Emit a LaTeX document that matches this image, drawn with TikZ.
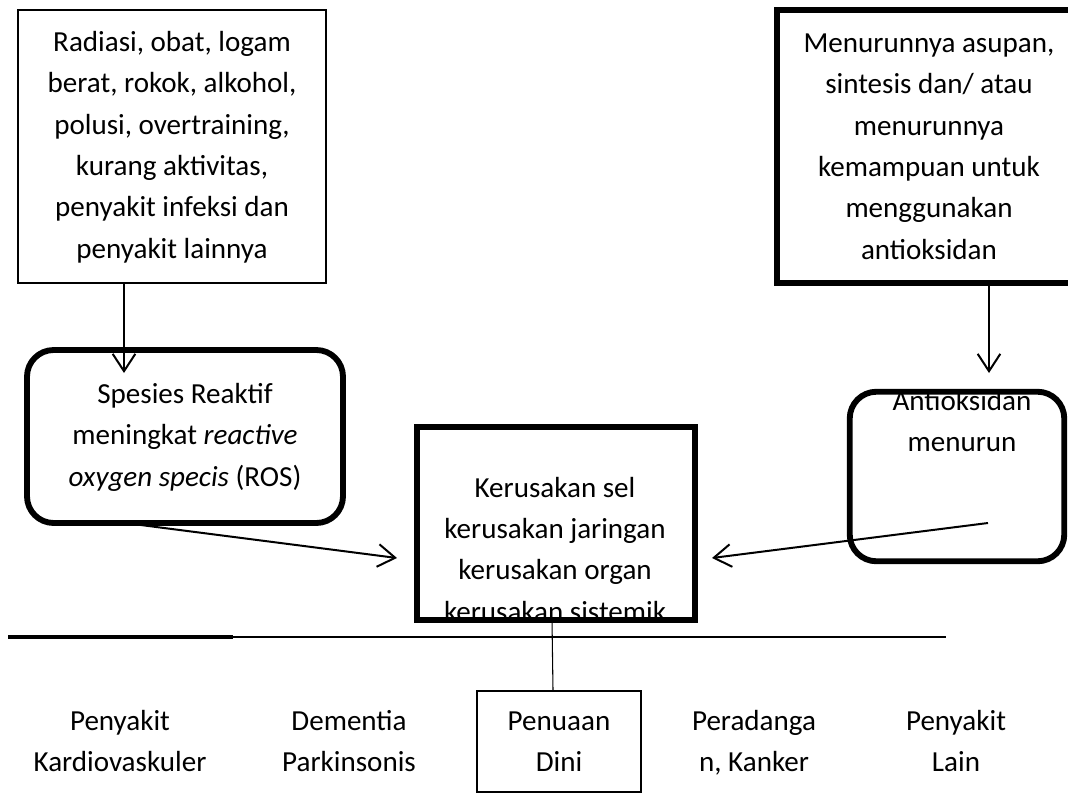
\documentclass[tikz,border=0pt]{standalone}
\usepackage{fontspec}
\setmainfont{Carlito}
\usetikzlibrary{arrows.meta}
\begin{document}
\begin{tikzpicture}[x=0.75pt,y=-0.75pt,
  every node/.style={font=\fontsize{21.8pt}{31pt}\selectfont, align=center, inner sep=0pt},
  thickbox/.style={draw, line width=4.4pt},
  roundbox/.style={draw, line width=4.4pt, rounded corners=20pt},
  arr/.style={line width=1.5pt, -{Straight Barb[length=13pt,width=17pt]}}
]
\useasboundingbox (0,0) rectangle (1068,793);

% top-left source box
\node[draw, line width=1.6pt, minimum width=308*0.75pt, minimum height=273*0.75pt] (box1) at (172,146.5)
  {\strut Radiasi, obat, logam\\berat, rokok, alkohol,\\polusi, overtraining,\\kurang aktivitas,\\penyakit infeksi dan\\penyakit lainnya\strut};

% top-right box (cut by the page edge)
\node[thickbox, minimum width=304*0.75pt, minimum height=273*0.75pt] (box2) at (929,146.5) {};
\node (box2t) at (929,147.5)
  {\strut Menurunnya asupan,\\sintesis dan/ atau\\menurunnya\\kemampuan untuk\\menggunakan\\antioksidan\strut};

% ROS rounded box
\node[roundbox, minimum width=316*0.75pt, minimum height=173*0.75pt] (ros) at (185,436.5)
  {\strut Spesies Reaktif\\meningkat \textit{reactive}\\\textit{oxygen specis} (ROS)\strut};

% middle damage box (text clipped)
\node[minimum width=278*0.75pt, minimum height=193*0.75pt] (mid) at (556,523.5) {};
\begin{scope}
  \clip (mid.south west) rectangle (mid.north east);
  \node (midt) at (555,551) {\strut Kerusakan sel\\kerusakan jaringan\\kerusakan organ\\kerusakan sistemik\strut};
\end{scope}
\draw[line width=4.4pt] (mid.south west) rectangle (mid.north east);

% antioxidant rounded box (text clipped)
\node[minimum width=214*0.75pt, minimum height=169*0.75pt] (anti) at (957,476.5) {};
\begin{scope}
  \clip[rounded corners=20pt] (anti.south west) rectangle (anti.north east);
  \node (antit) at (962,422.5) {\strut Antioksidan\\menurun\strut};
\end{scope}
\draw[line width=4.4pt, rounded corners=20pt] (anti.south west) rectangle (anti.north east);

% arrows
\coordinate (a1) at (124,373);
\coordinate (a2) at (989,373);
\draw[arr] (a1 |- box1.south) -- (a1);
\draw[arr] (a2 |- box2.south) -- (a2);

\coordinate (r1) at (133,524);
\coordinate (m1) at (397,558);
\draw[arr] (r1) -- (m1);

\coordinate (t1) at (988,523);
\coordinate (m2) at (712,558);
\draw[arr] (t1) -- (m2);

% horizontal line
\coordinate (h0) at (8,637);
\coordinate (h1) at (233,637);
\coordinate (h2) at (946,637);
\draw[line width=1.1pt] (h0) -- (h2);
\draw[line width=2.4pt] (h0) -- (h1);

% bottom boxes and labels
\node[draw, line width=1.6pt, minimum width=164*0.75pt, minimum height=101*0.75pt] (pen) at (559,741.5) {};
\node (pent) at (559,742.5) {\strut Penuaan\\Dini\strut};
\draw[line width=0.8pt] (mid.south -| 552,0) -- (pen.north -| 553,0);

\node (kar) at (120,742.5) {\strut Penyakit\\Kardiovaskuler\strut};
\node (dem) at (349,742.5) {\strut Dementia\\Parkinsonis\strut};
\node (per) at (754,742.5) {\strut Peradanga\\n, Kanker\strut};
\node (lain) at (956,742.5) {\strut Penyakit\\Lain\strut};
\end{tikzpicture}
\end{document}
